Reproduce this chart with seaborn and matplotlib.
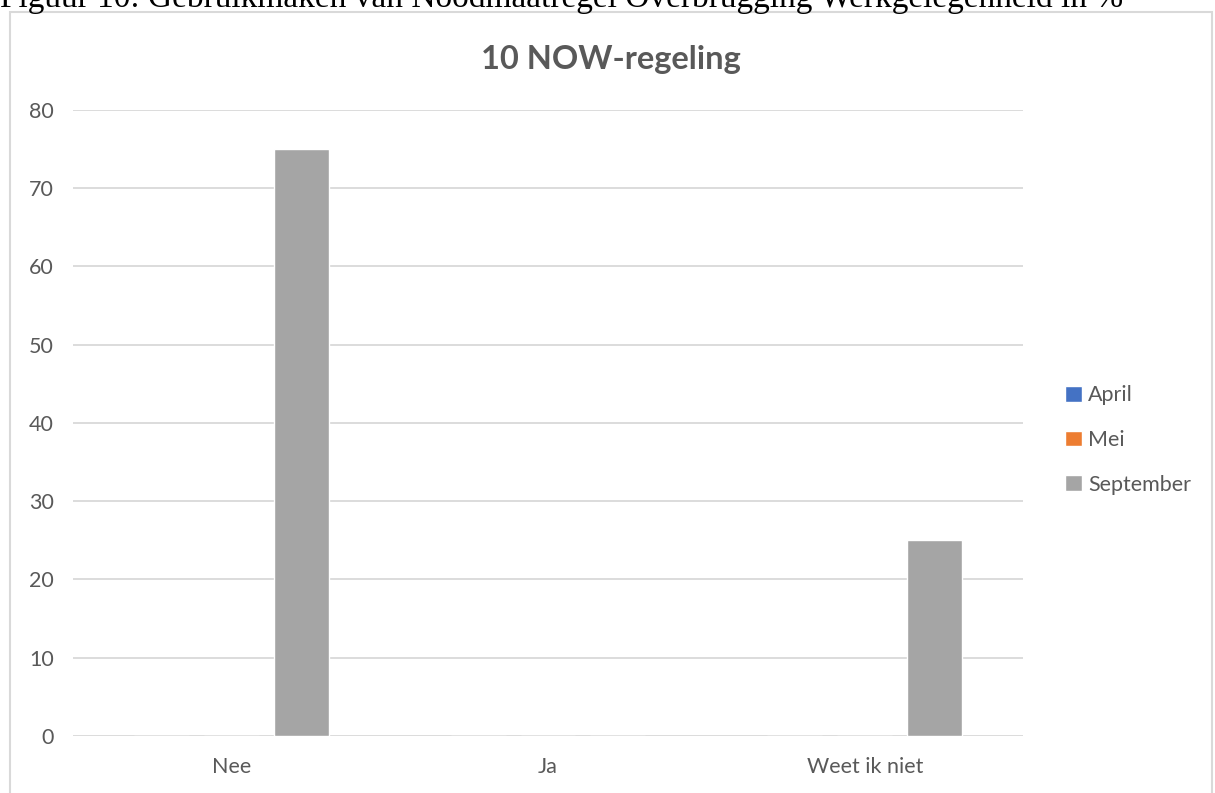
import matplotlib

matplotlib.use("Agg")

import matplotlib.pyplot as plt
import pandas as pd
import seaborn as sns
from matplotlib.patches import Rectangle

categories = ["Nee", "Ja", "Weet ik niet"]
series_names = ["April", "Mei", "September"]
april = [0, 0, 0]
mei = [0, 0, 0]
september = [75, 0, 25]
y_ticks = [0, 10, 20, 30, 40, 50, 60, 70, 80]

colors = ["#4472C4", "#ED7D31", "#A5A5A5"]
text_color = "#595959"
grid_color = "#D9D9D9"

frame = pd.DataFrame(
    {
        "categorie": categories * 3,
        "maand": [name for name in series_names for _ in categories],
        "waarde": april + mei + september,
    }
)

sns.set_theme(style="white")
plt.rcParams["font.family"] = ["Lato", "DejaVu Sans"]

figure = plt.figure(figsize=(12.15, 7.93), dpi=100)
axis = figure.add_axes([0.0601, 0.0719, 0.7819, 0.7894])

sns.barplot(
    data=frame,
    x="categorie",
    y="waarde",
    hue="maand",
    order=categories,
    hue_order=series_names,
    palette=colors,
    width=0.662,
    gap=0.215,
    saturation=1,
    errorbar=None,
    ax=axis,
)

axis.set_ylim(0, 80)
axis.set_xlim(-0.5, 2.5)
axis.set_yticks(y_ticks)
axis.set_xlabel("")
axis.set_ylabel("")
axis.yaxis.grid(True, color=grid_color, linewidth=1.3)
axis.set_axisbelow(True)
for spine in axis.spines.values():
    spine.set_visible(False)
axis.tick_params(axis="y", length=0, pad=14, labelsize=15.5, labelcolor=text_color)
axis.tick_params(axis="x", length=0, pad=15, labelsize=15.5, labelcolor=text_color)

handles, labels = axis.get_legend_handles_labels()
axis.legend(
    handles,
    labels,
    loc="center left",
    bbox_to_anchor=(1046 / 1215, 1 - 440 / 793),
    bbox_transform=figure.transFigure,
    frameon=False,
    fontsize=15.5,
    labelcolor=text_color,
    handlelength=0.75,
    handleheight=0.75,
    handletextpad=0.3,
    labelspacing=1.15,
)

figure.text(
    0.5027,
    1 - 59 / 793,
    "10 NOW-regeling",
    ha="center",
    va="center",
    fontsize=23.5,
    fontweight="bold",
    color=text_color,
)

# grey chart frame, cut off at the bottom of the page
figure.add_artist(
    Rectangle(
        (10 / 1215, -0.05),
        1202 / 1215,
        1.05 - 12 / 793,
        transform=figure.transFigure,
        fill=False,
        edgecolor=grid_color,
        linewidth=1.5,
    )
)

# page caption above the chart, only its lower part is on the page
figure.text(
    0.0,
    1 - 7 / 793,
    "Figuur 10: Gebruikmaken van Noodmaatregel Overbrugging Werkgelegenheid in %",
    ha="left",
    va="baseline",
    fontsize=24,
    family=["Liberation Serif", "DejaVu Serif"],
    color="black",
)

figure.savefig("out.png", dpi=100)
plt.close(figure)
